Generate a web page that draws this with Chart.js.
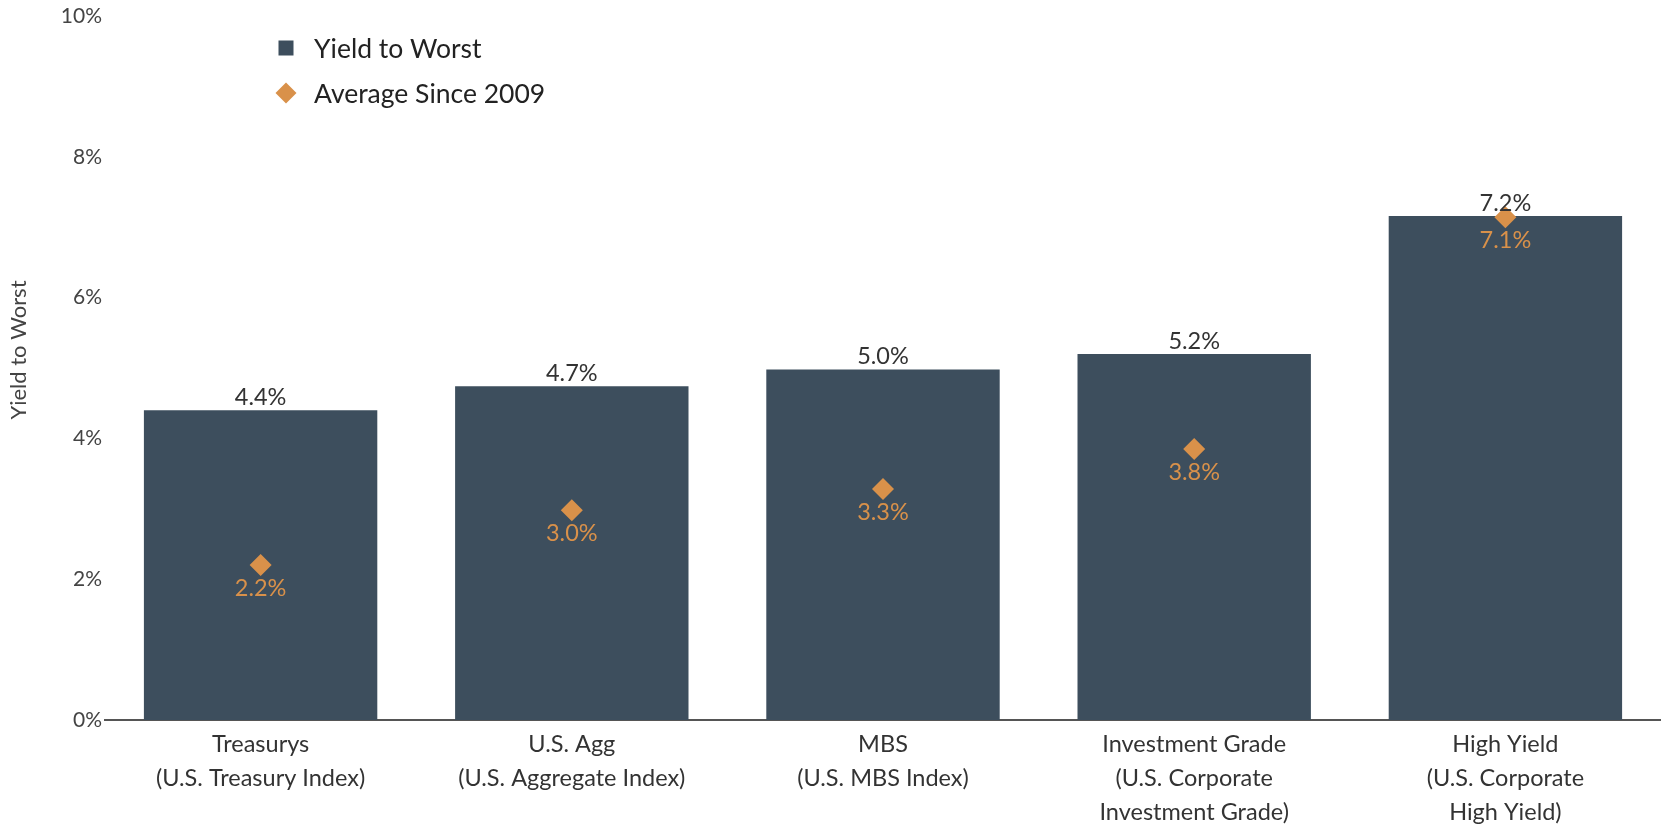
<!DOCTYPE html>
<html>
<head>
<meta charset="utf-8">
<script src="https://cdn.jsdelivr.net/npm/chart.js@4.4.1/dist/chart.umd.min.js"></script>
<style>
  html, body { margin: 0; padding: 0; background: #fff; }
  #wrap { width: 1661px; height: 826px; position: relative; }
</style>
</head>
<body>
<div id="wrap"><canvas id="grafico"></canvas></div>
<script>
// dados
const categorias = [
    ['Treasurys', '(U.S. Treasury Index)'],
    ['U.S. Agg', '(U.S. Aggregate Index)'],
    ['MBS', '(U.S. MBS Index)'],
    ['Investment Grade', '(U.S. Corporate', 'Investment Grade)'],
    ['High Yield', '(U.S. Corporate', 'High Yield)']
];
const yieldToWorst = [4.4, 4.74, 4.98, 5.2, 7.16];
const mediaDesde2009 = [2.2, 2.98, 3.28, 3.85, 7.14];
const rotulosYtw = ['4.4%', '4.7%', '5.0%', '5.2%', '7.2%'];
const rotulosMedia = ['2.2%', '3.0%', '3.3%', '3.8%', '7.1%'];
const ticksY = [0, 2, 4, 6, 8, 10];
const tituloY = 'Yield to Worst';

const corBarra = '#3d4e5d';
const corLaranja = '#d9914a';
const fonte = 'Lato, "Open Sans", sans-serif';

// rótulos de valor acima das barras e abaixo dos losangos
const rotulosPlugin = {
    id: 'rotulos',
    afterDatasetsDraw(chart) {
        const ctx = chart.ctx;
        ctx.save();
        ctx.textAlign = 'center';
        ctx.font = '23.5px ' + fonte;
        chart.getDatasetMeta(1).data.forEach((bar, i) => {
            ctx.fillStyle = '#333';
            ctx.textBaseline = 'alphabetic';
            ctx.fillText(rotulosYtw[i], bar.x, bar.y - 5);
        });
        chart.getDatasetMeta(0).data.forEach((pt, i) => {
            ctx.fillStyle = corLaranja;
            ctx.textBaseline = 'middle';
            ctx.fillText(rotulosMedia[i], pt.x, pt.y + 23);
        });
        ctx.restore();
    }
};

// legenda dentro da área do gráfico + título do eixo y
const legendaPlugin = {
    id: 'legendaInterna',
    afterDraw(chart) {
        const ctx = chart.ctx;
        const bar = chart.data.datasets[1];
        const media = chart.data.datasets[0];
        const x = 286;
        ctx.save();
        ctx.font = '26.5px ' + fonte;
        ctx.textBaseline = 'middle';
        ctx.textAlign = 'left';
        ctx.fillStyle = bar.backgroundColor;
        ctx.fillRect(x - 7.5, 48 - 7.5, 15, 15);
        ctx.fillStyle = '#222';
        ctx.fillText(bar.label, 314, 49);
        ctx.fillStyle = media.pointBackgroundColor;
        ctx.beginPath();
        ctx.moveTo(x, 93 - 10.5);
        ctx.lineTo(x + 10.5, 93);
        ctx.lineTo(x, 93 + 10.5);
        ctx.lineTo(x - 10.5, 93);
        ctx.closePath();
        ctx.fill();
        ctx.fillStyle = '#222';
        ctx.fillText(media.label, 314, 94);

        // título do eixo y
        ctx.translate(19, 350);
        ctx.rotate(-Math.PI / 2);
        ctx.textAlign = 'center';
        ctx.font = '22px ' + fonte;
        ctx.fillStyle = '#444';
        ctx.fillText(tituloY, 0, 0);
        ctx.restore();
    }
};

const ctx = document.getElementById('grafico').getContext('2d');
const grafico = new Chart(ctx, {
    data: {
        labels: categorias,
        datasets: [{
            type: 'line',
            label: 'Average Since 2009',
            data: mediaDesde2009,
            showLine: false,
            pointStyle: 'rectRot',
            pointRadius: 11,
            pointBackgroundColor: corLaranja,
            pointBorderWidth: 0,
            order: 0
        }, {
            type: 'bar',
            label: 'Yield to Worst',
            data: yieldToWorst,
            backgroundColor: corBarra,
            categoryPercentage: 1,
            barPercentage: 0.75,
            order: 1
        }]
    },
    options: {
        responsive: true,
        maintainAspectRatio: false,
        animation: false,
        layout: { autoPadding: false, padding: { top: 16, right: 0, left: 0, bottom: 0 } },
        plugins: {
            legend: { display: false },
            tooltip: { enabled: false }
        },
        scales: {
            x: {
                grid: { display: false, drawTicks: false },
                border: { display: true, color: '#555', width: 2 },
                ticks: {
                    color: '#333',
                    padding: 7,
                    maxRotation: 0,
                    autoSkip: false,
                    font: { family: fonte, size: 23.5, lineHeight: 34 / 23.5 }
                },
                afterFit(scale) { scale.height = 106; }
            },
            y: {
                min: 0,
                max: 10,
                afterBuildTicks(scale) { scale.ticks = ticksY.map(v => ({ value: v })); },
                grid: { display: false, drawTicks: false },
                border: { display: false },
                ticks: {
                    color: '#444',
                    padding: 3,
                    font: { family: fonte, size: 21 },
                    callback: v => v + '%'
                },
                afterFit(scale) { scale.width = 105; }
            }
        }
    },
    plugins: [rotulosPlugin, legendaPlugin]
});
</script>
</body>
</html>
